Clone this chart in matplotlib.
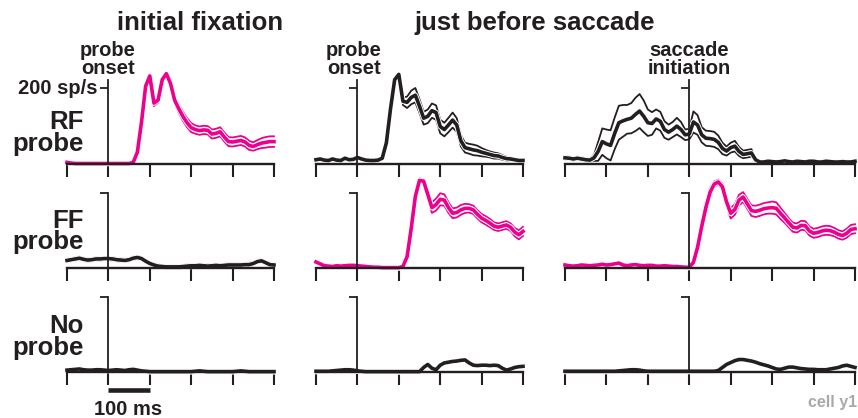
import matplotlib.pyplot as plt
import matplotlib.patheffects as pe
import numpy as np

plt.rcParams['font.family'] = ['Liberation Sans', 'DejaVu Sans']
plt.rcParams['font.weight'] = 'bold'

MAGENTA = '#ec008c'
BLACK = '#231f20'
GREY = '#a7a9ac'

# time grids (ms): probe-aligned columns and saccade-aligned column
t_probe = np.arange(-100, 401, 10)
t_sacc = np.arange(-300, 401, 10)

# ---- RF probe ----
rf_fix_mean = [3, 1, 0, 0, 0, 0, 0, 0, 0, 0, 0, 0, 0, 0, 0, 0,
               3, 30, 110, 205, 232, 160, 168, 222, 238, 212, 168, 145, 125, 108,
               95, 90, 87, 89, 88, 78, 80, 84, 70, 58, 57, 59, 61, 57, 48, 45,
               50, 54, 56, 58, 58]
rf_fix_sem = [1] * 16 + [2, 4, 6, 5, 4, 8, 7, 5, 4, 6, 9, 11, 12, 12, 12, 11, 11, 11, 11,
                         12, 12, 12, 12, 12, 12, 12, 12, 12, 12, 11, 12, 13, 14, 14, 14]

rf_pre_mean = [10, 12, 9, 8, 12, 9, 8, 14, 10, 11, 16, 12, 9, 8, 8, 9,
               14, 55, 145, 222, 236, 165, 162, 175, 181, 152, 120, 125, 140, 135,
               98, 90, 102, 115, 102, 60, 42, 39, 36, 34, 30, 27, 24, 21, 20, 16,
               13, 12, 10, 8, 8]
rf_pre_sem = [3] * 16 + [3, 5, 6, 5, 4, 10, 15, 18, 19, 18, 17, 18, 19, 19, 18, 18, 19, 20,
                         18, 15, 13, 13, 14, 13, 11, 9, 8, 8, 7, 6, 5, 4, 3, 3, 3]

rf_sac_mean = [15, 14, 12, 14, 12, 10, 9, 15, 32, 58,
               52, 48, 80, 108, 113, 117, 120, 130, 139, 125,
               108, 106, 118, 112, 90, 83, 90, 99, 90, 76,
               78, 110, 102, 76, 67, 66, 64, 56, 40, 33,
               42, 46, 32, 24, 26, 28, 10, 4, 4, 6,
               5, 4, 5, 7, 5, 4, 6, 5, 4, 6,
               6, 4, 4, 6, 5, 4, 4, 5, 4, 4, 6]
rf_sac_sem = [4, 4, 4, 4, 4, 4, 4, 8, 25, 35,
              38, 40, 42, 45, 42, 38, 40, 44, 45, 42,
              35, 30, 25, 25, 22, 20, 20, 22, 20, 14,
              14, 28, 26, 20, 20, 20, 20, 18, 15, 12,
              13, 14, 12, 10, 10, 10, 4] + [3] * 24

# ---- FF probe ----
ff_fix_mean = [20, 22, 24, 26, 23, 21, 22, 24, 24, 25, 25, 24, 22, 21, 20, 22,
               26, 28, 25, 18, 12, 8, 5, 4, 3, 3, 3, 3, 4, 5, 6, 6, 7, 6, 5, 6,
               7, 6, 7, 8, 8, 8, 8, 9, 9, 12, 17, 19, 14, 9, 8]
ff_fix_sem = [4] * 51

ff_pre_mean = [16, 11, 6, 5, 4, 6, 5, 6, 7, 7, 6, 5, 4, 3, 2, 2, 1, 1, 1, 1, 1,
               4, 30, 105, 190, 232, 230, 195, 160, 168, 182, 180, 160, 145, 147,
               154, 158, 158, 154, 142, 132, 126, 119, 111, 108, 111, 114, 108, 95,
               88, 97]
ff_pre_sem = [3] * 21 + [4, 8, 10, 8, 5, 5, 10, 14, 16, 16, 15, 14, 13, 13, 13, 12, 11,
                         11, 11, 11, 11, 11, 10, 10, 10, 10, 10, 11, 12, 12]

ff_sac_mean = [8, 6, 5, 6, 8, 7, 6, 7, 8, 10,
               8, 9, 11, 13, 8, 6, 8, 9, 7, 6,
               7, 7, 5, 5, 6, 5, 4, 4, 3, 2,
               2, 15, 55, 110, 160, 200, 222, 228, 215, 175,
               145, 155, 180, 188, 170, 152, 150, 153, 157, 159,
               160, 158, 145, 133, 120, 108, 106, 113, 112, 98,
               92, 94, 98, 100, 99, 95, 89, 86, 92, 102, 104]
ff_sac_sem = [3] * 30 + [3, 8, 15, 18, 16, 12, 7, 6, 8, 12,
                         14, 14, 14, 13, 13, 14, 15, 15, 15, 15,
                         16, 16, 15, 13, 12, 12, 12, 12, 12, 12,
                         12, 12, 12, 12, 12, 11, 11, 11, 12, 12, 12]

# ---- No probe ----
no_fix_mean = [5, 6, 7, 8, 6, 5, 5, 6, 6, 5, 4, 5, 6, 5, 4, 6, 7, 5, 3, 2, 1,
               1, 1, 1, 1, 1, 1, 1, 1, 1, 1, 2, 3, 2, 1, 1, 1, 1, 1, 1, 1,
               2, 3, 2, 1, 1, 1, 1, 1, 1, 1]
no_fix_sem = [2] * 51

no_pre_mean = [2, 2, 2, 2, 3, 4, 5, 6, 6, 5, 3, 2] + [1] * 14 + \
              [12, 20, 10, 6, 18, 24, 26, 28, 29, 31, 32, 24, 18, 17, 18, 18, 17,
               18, 17, 10, 5, 8, 12, 14, 15]
no_pre_sem = [3] * 51

no_sac_mean = [2] * 13 + [3, 4, 5, 6, 6, 5, 3, 2] + [2] * 16 + \
              [4, 12, 20, 25, 30, 33, 33, 31, 29, 26, 22, 19, 16, 12, 8, 7, 10,
               13, 13, 11, 9, 8, 7, 7, 6, 6, 6, 8, 10, 12, 16, 18, 15, 12]
no_sac_sem = [3] * 71

panels = [
    [(t_probe, rf_fix_mean, rf_fix_sem, MAGENTA), (t_probe, rf_pre_mean, rf_pre_sem, BLACK),
     (t_sacc, rf_sac_mean, rf_sac_sem, BLACK)],
    [(t_probe, ff_fix_mean, ff_fix_sem, BLACK), (t_probe, ff_pre_mean, ff_pre_sem, MAGENTA),
     (t_sacc, ff_sac_mean, ff_sac_sem, MAGENTA)],
    [(t_probe, no_fix_mean, no_fix_sem, BLACK), (t_probe, no_pre_mean, no_pre_sem, BLACK),
     (t_sacc, no_sac_mean, no_sac_sem, BLACK)],
]

W, H = 858, 418
fig = plt.figure(figsize=(W / 100, H / 100), dpi=100)

col_px = [(67, 274), (316, 523), (565, 855)]
row_base = [163.5, 268, 372]
YLO, YHI = -15, 265
PXS = 0.3775  # pixels per sp/s

axes = []
for r in range(3):
    for c in range(3):
        x0, x1 = col_px[c]
        bot = row_base[r] + (0 - YLO) * PXS
        hgt = (YHI - YLO) * PXS
        ax = fig.add_axes([x0 / W, 1 - bot / H, (x1 - x0) / W, hgt / H])
        t, m, s, col = panels[r][c]
        m = np.array(m, float)
        s = np.array(s, float)
        thin = [pe.Stroke(linewidth=2.8, foreground='white'), pe.Normal()]
        thick = [pe.Stroke(linewidth=4.0, foreground='white'), pe.Normal()]
        ax.plot(t, m - s, color=col, lw=1.3, path_effects=thin, clip_on=False)
        ax.plot(t, m + s, color=col, lw=1.3, path_effects=thin, clip_on=False)
        ax.plot(t, m, color=col, lw=2.6, path_effects=thick, clip_on=False)

        ax.set_xlim(t[0], t[-1])
        ax.set_ylim(YLO, YHI)
        ax.patch.set_visible(False)
        for side in ['top', 'right']:
            ax.spines[side].set_visible(False)
        ax.spines['bottom'].set_position(('data', 0))
        ax.spines['bottom'].set_linewidth(1.7)
        ax.spines['bottom'].set_color(BLACK)
        ax.spines['left'].set_position(('data', 0))
        ax.spines['left'].set_bounds(0, 222 if r == 0 else 200)
        ax.spines['left'].set_linewidth(1.3)
        ax.spines['left'].set_color(BLACK)
        ax.set_xticks(np.arange(t[0], t[-1] + 1, 100))
        ax.set_yticks([200])
        ax.set_xticklabels([])
        ax.set_yticklabels([])
        ax.tick_params(axis='x', direction='out', length=9.5, width=1.5, color=BLACK)
        ax.tick_params(axis='y', direction='out', length=6, width=1.3, color=BLACK)
        axes.append(ax)

# 100 ms scale bar under the bottom-left panel
ax_sb = axes[6]
ax_sb.plot([0, 100], [-48, -48], color=BLACK, lw=3.3, solid_capstyle='butt', clip_on=False)


def ftext(x, y, s, **kw):
    kw.setdefault('color', BLACK)
    kw.setdefault('fontweight', 'bold')
    kw.setdefault('va', 'baseline')
    fig.text(x / W, 1 - y / H, s, **kw)


ftext(200, 30, 'initial fixation', fontsize=18.5, ha='center')
ftext(535, 30, 'just before saccade', fontsize=18.5, ha='center')

# two-line event labels (top of first line given)
for x, label in [(108, 'probe\nonset'), (354, 'probe\nonset'),
                 (689, 'saccade\ninitiation')]:
    ftext(x, 40.6, label, fontsize=14.5, ha='center', va='top',
          multialignment='center', linespacing=0.93)

ftext(98, 94, '200 sp/s', fontsize=14.5, ha='right')

for y_top, label in zip([110.1, 208.6, 314.1], ['RF\nprobe', 'FF\nprobe', 'No\nprobe']):
    ftext(84, y_top, label, fontsize=18.5, ha='right', va='top',
          multialignment='right', linespacing=0.875)

ftext(128, 415, '100 ms', fontsize=14.5, ha='center')
ftext(857, 407, 'cell y1', fontsize=11.5, ha='right', color=GREY)

fig.savefig('out.png', dpi=100)
